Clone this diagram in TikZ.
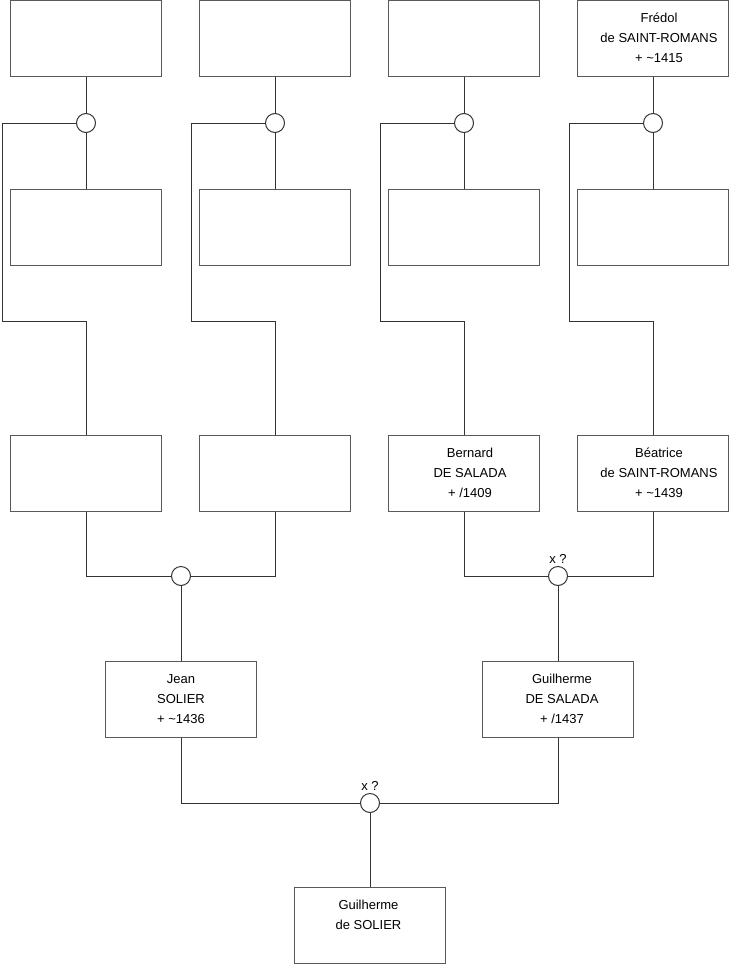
\documentclass[tikz,border=0pt]{standalone}
\usepackage{fontspec}
\setmainfont{Liberation Sans}
\newcommand\ptxt[2][0pt]{\hspace*{#1}\raisebox{1.5pt}{\begin{tabular}{@{}c@{}}#2\end{tabular}}}
\begin{document}
\begin{tikzpicture}[x=1pt,y=-1pt,
  person/.style={draw=black!65, line width=1pt, minimum width=151pt, minimum height=76pt, inner sep=0pt, font=\fontsize{13}{20}\selectfont},
  union/.style={circle, draw=black!80, fill=white, line width=1pt, minimum size=19pt, inner sep=0pt},
  link/.style={draw=black!80, line width=1pt},
  tag/.style={font=\fontsize{13}{15}\selectfont, inner sep=2pt}
]
\useasboundingbox (0,0) rectangle (740,975);
% row 1
\node[person] (a1) at (86,38.5) {};
\node[person] (a2) at (275,38.5) {};
\node[person] (a3) at (464,38.5) {};
\node[person] (a4) at (653,38.5) {\ptxt[12pt]{Frédol\\de SAINT-ROMANS\\+ \char`\~1415}};
% row 2
\node[person] (b1) at (86,227) {};
\node[person] (b2) at (275,227) {};
\node[person] (b3) at (464,227) {};
\node[person] (b4) at (653,227) {};
% unions row 1
\node[union] (u1) at (86,123) {};
\node[union] (u2) at (275,123) {};
\node[union] (u3) at (464,123) {};
\node[union] (u4) at (653,123) {};
% row 3
\node[person] (c1) at (86,473) {};
\node[person] (c2) at (275,473) {};
\node[person] (c3) at (464,473) {\ptxt[12pt]{Bernard\\DE SALADA\\+ /1409}};
\node[person] (c4) at (653,473) {\ptxt[12pt]{Béatrice\\de SAINT-ROMANS\\+ \char`\~1439}};
% bend points
\coordinate (k1) at (2,321);
\coordinate (k2) at (191,321);
\coordinate (k3) at (380,321);
\coordinate (k4) at (569,321);
% unions row 3
\node[union] (v1) at (181,576) {};
\node[union, label={[tag,label distance=0pt]above:x ?}] (v2) at (558,576) {};
% row 4
\node[person] (d1) at (181,699) {\ptxt{Jean\\SOLIER\\+ \char`\~1436}};
\node[person] (d2) at (558,699) {\ptxt[8pt]{Guilherme\\DE SALADA\\+ /1437}};
\node[union, label={[tag,label distance=0pt]above:x ?}] (w) at (370,803) {};
% row 5
\node[person] (e) at (370,925) {\ptxt[-3pt]{Guilherme\\de SOLIER\\\strut}};
% connectors
\foreach \i in {1,2,3,4}{
  \draw[link] (a\i.south) -- (u\i.north);
  \draw[link] (u\i.south) -- (b\i.north);
  \draw[link] (u\i.west) -| (k\i) -| (c\i.north);
}
\draw[link] (c1.south) |- (v1.west);
\draw[link] (c2.south) |- (v1.east);
\draw[link] (v1.south) -- (d1.north);
\draw[link] (c3.south) |- (v2.west);
\draw[link] (c4.south) |- (v2.east);
\draw[link] (v2.south) -- (d2.north);
\draw[link] (d1.south) |- (w.west);
\draw[link] (d2.south) |- (w.east);
\draw[link] (w.south) -- (e.north);
\end{tikzpicture}
\end{document}
